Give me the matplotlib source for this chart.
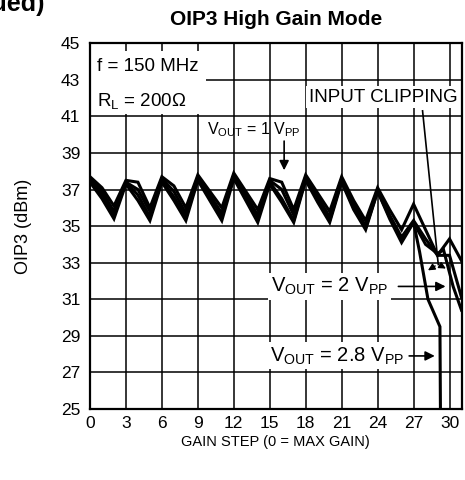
import numpy as np
import matplotlib
matplotlib.use("Agg")
import matplotlib.pyplot as plt
from matplotlib.patches import Rectangle

plt.rcParams['font.family'] = ['Liberation Sans', 'DejaVu Sans']
plt.rcParams['mathtext.default'] = 'regular'

# gain steps shared by the sawtooth part of every curve
steps = list(range(0, 28))

# OIP3 (dBm), x = 0..27
oip3_1vpp = [37.7, 37.1, 36.1, 37.5, 37.4, 36.0, 37.7, 37.2, 36.0, 37.8, 36.9, 36.0, 37.9, 36.9,
             35.9, 37.6, 37.4, 35.9, 37.8, 36.8, 35.8, 37.7, 36.4, 35.3, 37.1, 35.9, 34.8, 36.2]
oip3_b = [37.6, 36.9, 35.8, 37.4, 37.0, 35.8, 37.6, 36.9, 35.7, 37.7, 36.7, 35.7, 37.8, 36.7,
          35.6, 37.5, 37.0, 35.6, 37.7, 36.6, 35.5, 37.6, 36.2, 35.0, 37.0, 35.6, 34.4, 35.3]
oip3_2vpp = [37.5, 36.7, 35.6, 37.4, 36.7, 35.5, 37.5, 36.6, 35.5, 37.6, 36.5, 35.5, 37.7, 36.5,
             35.4, 37.4, 36.5, 35.3, 37.6, 36.4, 35.3, 37.5, 36.0, 34.9, 36.9, 35.5, 34.3, 35.2]
oip3_28vpp = [37.4, 36.5, 35.4, 37.3, 36.4, 35.3, 37.4, 36.4, 35.3, 37.5, 36.4, 35.3, 37.6, 36.4,
              35.2, 37.3, 36.3, 35.2, 37.5, 36.3, 35.2, 37.4, 35.9, 34.8, 36.9, 35.4, 34.1, 35.2]

# tails past step 27 (clipping region)
tail_1vpp_x = [28, 29, 30, 31]
tail_1vpp_y = [34.8, 33.4, 34.3, 33.1]
tail_b_x = [28, 29, 30, 31]
tail_b_y = [34.3, 33.4, 33.4, 31.1]
tail_2vpp_x = [28, 29, 29.5, 30.3, 31]
tail_2vpp_y = [34.0, 33.5, 33.7, 31.7, 30.4]
tail_28vpp_x = [27.5, 28.2, 29.2, 29.25]
tail_28vpp_y = [33.6, 31.0, 29.5, 24.0]

curves = [
    (steps + tail_1vpp_x, oip3_1vpp + tail_1vpp_y),
    (steps + tail_b_x, oip3_b + tail_b_y),
    (steps + tail_2vpp_x, oip3_2vpp + tail_2vpp_y),
    (steps + tail_28vpp_x, oip3_28vpp + tail_28vpp_y),
]

fig = plt.figure(figsize=(4.65, 4.8), dpi=100)
ax = fig.add_axes([0.1935, 0.148, 0.799, 0.762])

for xs, ys in curves:
    ax.plot(xs, ys, color='black', lw=2.2, solid_joinstyle='miter', zorder=3)

ax.set_xlim(0, 31)
ax.set_ylim(25, 45)
ax.set_xticks(range(0, 31, 3))
ax.set_yticks(range(25, 46, 2))
ax.grid(True, color='black', lw=1.1)
ax.tick_params(length=0, labelsize=12.5)
ax.tick_params(axis='y', pad=7)
ax.tick_params(axis='x', pad=5)
for s in ax.spines.values():
    s.set_linewidth(1.6)

ax.set_ylabel('OIP3 (dBm)', fontsize=13)
ax.yaxis.set_label_coords(-0.156, 0.5)
ax.set_xlabel('GAIN STEP (0 = MAX GAIN)', fontsize=10.5)
ax.xaxis.set_label_coords(0.5, -0.072)
ax.set_title('OIP3 High Gain Mode', fontsize=15, fontweight='bold', pad=13)

fig.text(45 / 465, 1 - 11 / 480, 'Typical Characteristics (continued)', ha='right',
         va='baseline', fontsize=18, fontweight='bold')

# white patch behind the conditions text in the upper-left corner
ax.add_patch(Rectangle((0, 41.15), 9.65, 3.45, facecolor='white', edgecolor='none', zorder=2.5))
ax.text(0.6, 43.75, 'f = 150 MHz', fontsize=13.5, va='center', ha='left', zorder=5)
ax.text(0.6, 41.85, r'R$_L$ = 200Ω', fontsize=13.5, va='center', ha='left', zorder=5)

box = dict(facecolor='white', edgecolor='none', pad=2)
ax.text(30.67, 42.05, 'INPUT CLIPPING', fontsize=13.5, va='center', ha='right', zorder=5, bbox=box)

ax.text(9.8, 40.25, r'V$_{OUT}$ = 1 V$_{PP}$', fontsize=11.5, va='center', ha='left', zorder=5)
ax.annotate('', xy=(16.2, 37.9), xytext=(16.2, 39.8),
            arrowprops=dict(arrowstyle='-|>', color='black', lw=1.2, mutation_scale=14), zorder=5)

ax.text(15.1, 31.7, r'V$_{OUT}$ = 2 V$_{PP}$', fontsize=14.5, va='center', ha='left', zorder=5, bbox=box)
ax.annotate('', xy=(29.9, 31.7), xytext=(25.5, 31.7),
            arrowprops=dict(arrowstyle='-|>', color='black', lw=1.2, mutation_scale=14), zorder=5)

ax.text(15.0, 27.9, r'V$_{OUT}$ = 2.8 V$_{PP}$', fontsize=14.5, va='center', ha='left', zorder=5, bbox=box)
ax.annotate('', xy=(29.0, 27.9), xytext=(26.4, 27.9),
            arrowprops=dict(arrowstyle='-|>', color='black', lw=1.2, mutation_scale=14), zorder=5)

# clipping pointer
ax.plot([27.75, 29.06], [41.3, 32.9], color='black', lw=1.2, zorder=4)
ax.annotate('', xy=(28.0, 32.5), xytext=(29.0, 32.9),
            arrowprops=dict(arrowstyle='-|>', color='black', lw=1.0, mutation_scale=10), zorder=5)
ax.annotate('', xy=(29.9, 32.6), xytext=(29.1, 32.9),
            arrowprops=dict(arrowstyle='-|>', color='black', lw=1.0, mutation_scale=10), zorder=5)

fig.savefig('out.png', dpi=100)
